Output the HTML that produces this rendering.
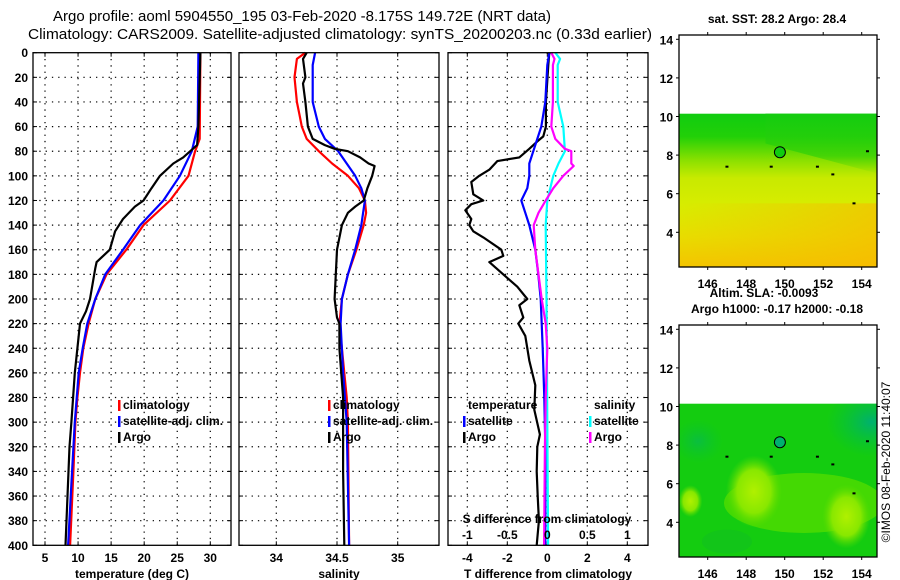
<!DOCTYPE html>
<html><head><meta charset="utf-8"><style>
html,body{margin:0;padding:0;background:#fff;}
svg{display:block;font-family:"Liberation Sans",sans-serif;}
.t{font-size:12px;font-weight:bold;fill:#000;}
</style></head><body>
<svg id="fig" width="900" height="580" viewBox="0 0 900 580">
<defs>
<linearGradient id="sstg" x1="0" y1="0" x2="0" y2="1">
<stop offset="0" stop-color="#10cc10"/><stop offset="0.15" stop-color="#22d008"/>
<stop offset="0.3" stop-color="#88e000"/><stop offset="0.42" stop-color="#c8ea00"/>
<stop offset="0.6" stop-color="#d8ec00"/><stop offset="0.8" stop-color="#e8dc00"/>
<stop offset="1" stop-color="#f4c400"/></linearGradient>
<linearGradient id="sstr" x1="0" y1="0" x2="1" y2="0">
<stop offset="0" stop-color="#f0c000" stop-opacity="0"/><stop offset="1" stop-color="#f8b800" stop-opacity="0.6"/></linearGradient>
<linearGradient id="sstgreen" x1="0" y1="0" x2="0" y2="1">
<stop offset="0" stop-color="#14cc10" stop-opacity="0.9"/><stop offset="0.7" stop-color="#30d008" stop-opacity="0.7"/><stop offset="1" stop-color="#60d800" stop-opacity="0"/></linearGradient>
<radialGradient id="blob"><stop offset="0" stop-color="#b0f000"/><stop offset="0.6" stop-color="#88e800"/><stop offset="1" stop-color="#5cdc00" stop-opacity="0"/></radialGradient>
<radialGradient id="teal"><stop offset="0" stop-color="#00b070"/><stop offset="1" stop-color="#00c040" stop-opacity="0"/></radialGradient>
</defs>
<text x="302" y="21" font-size="15" text-anchor="middle" textLength="498" lengthAdjust="spacingAndGlyphs">Argo profile: aoml 5904550_195 03-Feb-2020 -8.175S 149.72E (NRT data)</text>
<text x="340" y="39" font-size="15" text-anchor="middle" textLength="624" lengthAdjust="spacingAndGlyphs">Climatology: CARS2009. Satellite-adjusted climatology: synTS_20200203.nc (0.33d earlier)</text>
<g id="plots"></g>
<g id="maps"></g>
<text x="890" y="462" font-size="12" text-anchor="middle" transform="rotate(-90 890 462)">©IMOS 08-Feb-2020 11:40:07</text>
</svg>
<script>
// ---------- data ----------
const depthTicks=[0,20,40,60,80,100,120,140,160,180,200,220,240,260,280,300,320,340,360,380,400];
const tTicks=[5,10,15,20,25,30];
const sTicks=[34,34.5,35];
const dTTicks=[-4,-2,0,2,4];
const dSTicks=[-1,-0.5,0,0.5,1];
const dSTickLabels=["-1","-0.5","0","0.5","1"];
const tempClimDepth=[0,70,80,100,120,140,160,180,200,220,240,260,280,300,340,400];
const tempClim=[28.5,28.4,27.7,26.7,23.9,19.9,17.3,14.3,12.6,11.6,10.8,10.3,9.9,9.6,9.3,8.8];
const tempSatDepth=[0,60,80,100,120,140,160,180,200,220,240,260,300,350,400];
const tempSat=[28.2,28.1,27.2,25.4,22.9,19.4,16.8,14.1,12.6,11.4,10.7,10.1,9.5,9.0,8.5];
const tempArgoDepth=[0,60,75,85,90,100,110,120,125,135,145,160,170,175,200,210,220,240,260,300,320,360,400];
const tempArgo=[28.5,28.2,28.0,25.9,24.4,22.4,21.1,19.9,18.6,16.8,15.6,14.8,12.8,12.6,11.8,11.2,10.3,9.9,9.5,9.0,8.7,8.4,8.1];
const salClimDepth=[0,5,20,40,50,60,70,80,90,100,110,120,130,140,160,180,200,220,240,280,300,400];
const salClim=[34.24,34.17,34.15,34.17,34.19,34.21,34.25,34.35,34.46,34.59,34.68,34.73,34.74,34.72,34.66,34.59,34.54,34.52,34.54,34.58,34.59,34.60];
const salSatDepth=[0,10,40,60,70,80,100,110,120,140,160,180,200,220,260,300,400];
const salSat=[34.32,34.30,34.30,34.35,34.40,34.51,34.65,34.70,34.73,34.70,34.65,34.59,34.54,34.53,34.55,34.58,34.60];
const salArgoDepth=[0,5,20,25,40,60,70,75,78,80,85,90,92,100,110,120,125,130,140,160,200,215,220,240,280,340,400];
const salArgo=[34.25,34.22,34.24,34.22,34.24,34.26,34.30,34.40,34.48,34.59,34.69,34.76,34.81,34.79,34.75,34.72,34.65,34.59,34.54,34.50,34.48,34.50,34.52,34.52,34.55,34.55,34.56];
const dTSatDepth=[0,10,40,60,70,80,90,100,110,120,130,140,160,180,200,240,280,320,400];
const dTSat=[0.1,0,-0.1,-0.3,-0.5,-0.7,-0.9,-0.9,-1.0,-1.3,-1.1,-0.9,-0.6,-0.45,-0.33,-0.23,-0.15,-0.1,-0.1];
const dTArgoDepth=[0,10,40,60,68,72,78,85,88,95,100,105,115,120,123,128,135,140,145,150,160,165,170,180,190,200,205,215,220,230,250,270,290,310,320,340,360,380,400];
const dTArgo=[0.1,0.05,-0.07,-0.07,-0.2,-0.5,-0.9,-1.4,-2.5,-2.9,-3.4,-3.8,-3.7,-3.2,-3.8,-4.1,-3.8,-3.9,-3.7,-3.2,-2.3,-2.2,-2.9,-2.2,-1.5,-1.0,-1.4,-1.2,-1.45,-1.1,-0.9,-0.6,-0.65,-0.37,-0.5,-0.53,-0.48,-0.42,-0.53];
const dSSatDepth=[0,5,10,40,60,80,90,100,120,140,200,300,400];
const dSSat=[0.1,0.16,0.13,0.13,0.2,0.22,0.14,0.075,0,-0.02,-0.01,0,0.01];
const dSArgoDepth=[0,5,10,40,60,70,78,80,90,92,100,110,120,130,140,160,180,200,220,240,280,320,400];
const dSArgo=[0.05,0.09,0.07,0.07,0.05,0.1,0.22,0.3,0.3,0.33,0.2,0.075,-0.02,-0.11,-0.17,-0.15,-0.11,-0.07,-0.02,0,-0.02,-0.03,-0.04];
const mapLonTicks=[146,148,150,152,154];
const mapLatTicks=[4,6,8,10,12,14];
const argoLon=149.75, argoLat=8.15;

// ---------- helpers ----------
const NS="http://www.w3.org/2000/svg";
const plots=document.getElementById('plots');
const maps=document.getElementById('maps');
function mk(tag,attrs,parent,text){const e=document.createElementNS(NS,tag);for(const k in attrs)e.setAttribute(k,attrs[k]);if(text!==undefined)e.textContent=text;parent.appendChild(e);return e;}
const Y0=52.7,Y1=545.3;
function yD(d){return Y0+(d/400)*(Y1-Y0);}
function xT(t){return 45+(t-5)*(210.3-45)/25;}
function xS(s){return 276.3+(s-34)*121.4;}
function xDT(v){return 547.3+v*20;}
function xDS(v){return 547.3+v*80;}

function panel(name,x0,x1,ticks,xf,labels,title,showDepth){
  const g=mk('g',{},plots);
  
  
  depthTicks.forEach(d=>{ if(d>0&&d<400){const l=mk('line',{x1:x0,x2:x1,y1:yD(d),y2:yD(d),stroke:'#000','stroke-width':1.2,'stroke-dasharray':'1.3,5'},g);
    
    }
    mk('line',{x1:x0,x2:x0+4,y1:yD(d),y2:yD(d),stroke:'#000'},g);mk('line',{x1:x1-4,x2:x1,y1:yD(d),y2:yD(d),stroke:'#000'},g);
    if(showDepth){const t=mk('text',{x:28,y:yD(d)+4.5,'text-anchor':'end',class:'t'},g,String(d));
      
      }
  });
  ticks.forEach((v,i)=>{const x=xf(v);
    const l=mk('line',{x1:x,x2:x,y1:Y0,y2:Y1,stroke:'#000','stroke-width':1.2,'stroke-dasharray':'1.3,5'},g);
    
    
    mk('line',{x1:x,x2:x,y1:Y0,y2:Y0+4,stroke:'#000'},g);mk('line',{x1:x,x2:x,y1:Y1-4,y2:Y1,stroke:'#000'},g);
    const t=mk('text',{x:x,y:562,'text-anchor':'middle',class:'t'},g,labels[i]);
    
    });
  const tt=mk('text',{x:(x0+x1)/2,y:578,'text-anchor':'middle',class:'t'},g,title);
  
  
  return g;
}
function series(g,name,depths,vals,xf,color){
  const pts=depths.map((d,i)=>xf(vals[i]).toFixed(1)+','+yD(d).toFixed(1)).join(' ');
  const p=mk('polyline',{points:pts,fill:'none',stroke:color,'stroke-width':2.2,'stroke-linejoin':'round'},g);
  
  
}
function frame(g,x0,x1){mk('rect',{x:x0,y:Y0,width:x1-x0,height:Y1-Y0,fill:'none',stroke:'#000','stroke-width':1.3},g);}
function legend(g,x,y,color,label,name){
  const r=mk('rect',{x:x,y:y-9,width:2.5,height:11,fill:color},g);
  
  
  const t=mk('text',{x:x+5,y:y,class:'t'},g,label);
  
  
}

let g1=panel('temperature-panel',33,231,tTicks,xT,tTicks.map(String),'temperature (deg C)',true);
series(g1,'temp-climatology-line',tempClimDepth,tempClim,xT,'#f00');
series(g1,'temp-satellite-line',tempSatDepth,tempSat,xT,'#00f');
series(g1,'temp-argo-line',tempArgoDepth,tempArgo,xT,'#000');
frame(g1,33,231);
legend(g1,118,409,'#f00','climatology','legend-climatology');
legend(g1,118,425,'#00f','satellite-adj. clim.','legend-satellite');
legend(g1,118,441,'#000','Argo','legend-argo');

let g2=panel('salinity-panel',239,439,sTicks,xS,['34','34.5','35'],'salinity',false);
series(g2,'sal-climatology-line',salClimDepth,salClim,xS,'#f00');
series(g2,'sal-satellite-line',salSatDepth,salSat,xS,'#00f');
series(g2,'sal-argo-line',salArgoDepth,salArgo,xS,'#000');
frame(g2,239,439);
legend(g2,328,409,'#f00','climatology','legend-climatology');
legend(g2,328,425,'#00f','satellite-adj. clim.','legend-satellite');
legend(g2,328,441,'#000','Argo','legend-argo');

let g3=panel('difference-panel',448,648,dTTicks,xDT,dTTicks.map(String),'T difference from climatology',false);
series(g3,'dT-argo-line',dTArgoDepth,dTArgo,xDT,'#000');
series(g3,'dT-satellite-line',dTSatDepth,dTSat,xDT,'#00f');
series(g3,'dS-satellite-line',dSSatDepth,dSSat,xDS,'#0ff');
series(g3,'dS-argo-line',dSArgoDepth,dSArgo,xDS,'#f0f');
frame(g3,448,648);
dSTicks.forEach((v,i)=>{const t=mk('text',{x:xDS(v),y:539,'text-anchor':'middle',class:'t'},g3,dSTickLabels[i]);
  
  });
{const t=mk('text',{x:547,y:523,'text-anchor':'middle',class:'t'},g3,'S difference from climatology');
 
 }
{const t=mk('text',{x:468,y:409,class:'t'},g3,'temperature');
 
 }
{const t=mk('text',{x:594,y:409,class:'t'},g3,'salinity');
 
 }
legend(g3,463,425,'#00f','satellite','legend-t-satellite');
legend(g3,463,441,'#000','Argo','legend-t-argo');
legend(g3,589,425,'#0ff','satellite','legend-s-satellite');
legend(g3,589,441,'#f0f','Argo','legend-s-argo');

// ---------- maps ----------
function mapPanel(name,top,bottom,kind){
  const X0=679,X1=877;
  const lat14=top+4.3;
  const xL=lon=>707.7+(lon-146)*19.25;
  const yL=lat=>lat14+(14-lat)*19.3;
  const g=mk('g',{},maps);
  
  
  const cy=yL(10.15);
  const cp=mk('clipPath',{id:name+'-clip'},g);
  mk('rect',{x:X0,y:cy,width:X1-X0,height:bottom-cy},cp);
  const c=mk('g',{'clip-path':'url(#'+name+'-clip)'},g);
  if(kind==='sst'){
    mk('rect',{x:X0,y:cy,width:X1-X0,height:bottom-cy,fill:'url(#sstg)'},c);
    mk('polygon',{points:`${xL(149)},${yL(8.6)} ${xL(155)},${yL(7.0)} ${xL(155)},${yL(10.2)} ${xL(149)},${yL(10.2)}`,fill:'url(#sstgreen)'},c);
    mk('rect',{x:X0,y:yL(5.5),width:X1-X0,height:bottom-yL(5.5),fill:'url(#sstr)'},c);
  }else{
    mk('rect',{x:X0,y:cy,width:X1-X0,height:bottom-cy,fill:'#14cc10'},c);
    mk('ellipse',{cx:xL(154.5),cy:yL(9.2),rx:45,ry:35,fill:'url(#teal)'},c);
    mk('ellipse',{cx:xL(145.5),cy:yL(8.2),rx:25,ry:22,fill:'url(#teal)',opacity:0.5},c);
    mk('ellipse',{cx:xL(151),cy:yL(5.0),rx:80,ry:30,fill:'#50dc00',opacity:0.8},c);
    mk('ellipse',{cx:xL(148.4),cy:yL(5.6),rx:28,ry:36,fill:'url(#blob)'},c);
    mk('ellipse',{cx:xL(153.2),cy:yL(4.3),rx:24,ry:32,fill:'url(#blob)'},c);
    mk('ellipse',{cx:xL(145.1),cy:yL(5.1),rx:12,ry:16,fill:'url(#blob)'},c);
    mk('ellipse',{cx:xL(147),cy:yL(3),rx:25,ry:12,fill:'#10c020',opacity:0.6},c);
  }
  [[151.7,7.4],[153.6,5.5],[149.3,7.4],[147,7.4],[154.3,8.2],[152.5,7]].forEach(p=>mk('rect',{x:xL(p[0])-1.5,y:yL(p[1])-1,width:3,height:2,fill:'#000'},g));
  mk('rect',{x:X0,y:top,width:X1-X0,height:bottom-top,fill:'none',stroke:'#000','stroke-width':1.3},g);
  mapLatTicks.forEach(v=>{const y=yL(v);
    mk('line',{x1:X0-3,x2:X0,y1:y,y2:y,stroke:'#000'},g);mk('line',{x1:X1,x2:X1+3,y1:y,y2:y,stroke:'#000'},g);
    const t=mk('text',{x:673,y:y+5,'text-anchor':'end',class:'t','font-size':'13'},g,String(v));
    
    });
  mapLonTicks.forEach(v=>{const x=xL(v);
    mk('line',{x1:x,x2:x,y1:top-3,y2:top,stroke:'#000'},g);mk('line',{x1:x,x2:x,y1:bottom,y2:bottom+3,stroke:'#000'},g);
    const t=mk('text',{x:x,y:bottom+21,'text-anchor':'middle',class:'t','font-size':'13'},g,String(v));
    
    });
  const ci=mk('circle',{cx:xL(argoLon),cy:yL(argoLat),r:5.5,fill:kind==='sst'?'#10cc10':'#00b070',stroke:'#000','stroke-width':1},g);
  
  
  return g;
}
mapPanel('sst-map',35,267,'sst');
mapPanel('sla-map',325,557,'sla');
function label(x,y,txt,name){const t=mk('text',{x:x,y:y,'text-anchor':'middle',class:'t','font-size':'13'},maps,txt);
  
  }
label(777,23,'sat. SST: 28.2 Argo: 28.4','sst-map-title');
label(764,297,'Altim. SLA: -0.0093','altim-sla-label');
label(777,313,'Argo h1000: -0.17 h2000: -0.18','sla-map-title');
</script>
</body></html>
